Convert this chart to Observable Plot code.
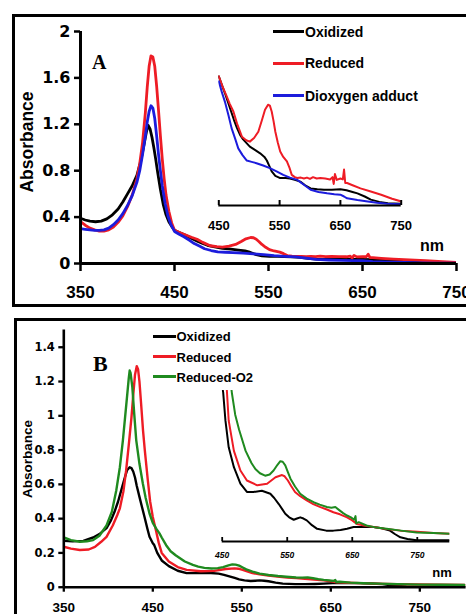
<!DOCTYPE html>
<html><head><meta charset="utf-8">
<script src="https://cdn.jsdelivr.net/npm/d3@7"></script>
<script src="https://cdn.jsdelivr.net/npm/@observablehq/plot@0.6"></script>
<style>
body{margin:0;background:#fff;}
#wrap{position:relative;width:466px;height:614px;overflow:hidden;background:#fff;font-family:"Liberation Sans",Arial,sans-serif;font-weight:bold;color:#000;}
.frame{position:absolute;box-sizing:border-box;border:3px solid #000;}
.lbl{position:absolute;white-space:nowrap;line-height:1;transform:translateY(-50%);}
.ctr{position:absolute;white-space:nowrap;line-height:1;transform:translate(-50%,-50%);}
.key{position:absolute;height:3px;}
</style></head><body><div id="wrap"></div>
<script>
// ---------- DATA ----------
// Panel A : wavelength (nm), absorbance
const aOxidized = [[350,0.39],[355,0.375],[360,0.365],[366,0.36],[372,0.365],[378,0.385],[384,0.42],[390,0.47],[395,0.53],[400,0.60],[405,0.67],[410,0.76],[414,0.88],[417,1.00],[420,1.13],[422,1.19],[424,1.16],[426,1.09],[428,1.00],[430,0.90],[432,0.79],[435,0.64],[438,0.51],[441,0.42],[444,0.36],[447,0.32],[450,0.287],[455,0.268],[460,0.25],[465,0.23],[470,0.21],[475,0.19],[480,0.172],[485,0.157],[490,0.147],[501,0.131],[510,0.123],[518,0.116],[525,0.108],[529,0.1],[533,0.088],[537,0.076],[543,0.066],[551,0.061],[560,0.061],[567,0.06],[575,0.057],[584,0.053],[592,0.045],[601,0.038],[612,0.036],[623,0.035],[636,0.035],[650,0.036],[660,0.034],[670,0.03],[678,0.027],[690,0.02],[700,0.013],[714,0.008],[728,0.005],[750,0.004]];
const aReduced = [[350,0.36],[355,0.33],[360,0.305],[365,0.29],[370,0.28],[375,0.28],[380,0.29],[385,0.315],[390,0.355],[395,0.41],[400,0.49],[405,0.59],[410,0.73],[413,0.86],[416,1.04],[419,1.3],[421,1.52],[423,1.7],[425,1.79],[427,1.78],[429,1.7],[431,1.53],[433,1.32],[435,1.1],[437,0.9],[439,0.73],[441,0.59],[444,0.45],[447,0.35],[450,0.287],[456,0.265],[462,0.246],[468,0.226],[474,0.209],[480,0.182],[488,0.153],[495,0.145],[501,0.142],[508,0.15],[515,0.164],[521,0.19],[526,0.213],[531,0.224],[534,0.222],[537,0.209],[540,0.188],[543,0.164],[547,0.14],[551,0.12],[556,0.108],[562,0.098],[566,0.085],[570,0.068],[575,0.063],[579,0.061],[585,0.062],[590,0.06],[595,0.062],[600,0.059],[605,0.063],[611,0.06],[617,0.061],[625,0.06],[633,0.058],[637,0.063],[639,0.048],[641,0.07],[644,0.057],[650,0.06],[654,0.058],[656,0.08],[658,0.05],[661,0.05],[670,0.045],[683,0.038],[700,0.031],[717,0.024],[735,0.015],[750,0.009]];
const aDioxygen = [[350,0.30],[355,0.295],[360,0.29],[365,0.285],[370,0.285],[375,0.29],[380,0.305],[385,0.335],[390,0.375],[395,0.43],[400,0.5],[405,0.585],[410,0.7],[413,0.8],[416,0.94],[419,1.1],[421,1.22],[423,1.31],[425,1.36],[427,1.34],[429,1.25],[431,1.1],[433,0.94],[435,0.8],[437,0.67],[440,0.52],[443,0.41],[446,0.34],[450,0.276],[455,0.252],[460,0.231],[466,0.2],[471,0.172],[477,0.148],[482,0.127],[489,0.112],[496,0.1],[504,0.097],[512,0.094],[523,0.089],[534,0.083],[545,0.076],[556,0.068],[567,0.062],[579,0.057],[590,0.046],[601,0.035],[614,0.03],[628,0.027],[640,0.025],[650,0.024],[656,0.02],[661,0.016],[678,0.012],[695,0.009],[710,0.006],[727,0.004],[750,0.003]];

// Panel B : wavelength (nm), absorbance
const bOxidized = [[350,0.271],[360,0.268],[372,0.27],[383,0.29],[390,0.31],[398,0.345],[403,0.39],[407,0.44],[411,0.5],[414.6,0.566],[418,0.63],[421,0.682],[424,0.70],[426,0.695],[428,0.675],[430,0.64],[432,0.59],[435,0.527],[438,0.465],[440.7,0.41],[444,0.34],[446.3,0.294],[450,0.256],[451.5,0.247],[455,0.2],[460,0.156],[468,0.123],[478,0.096],[488,0.082],[498,0.082],[511,0.084],[524,0.079],[530,0.072],[537,0.062],[542,0.054],[547,0.046],[553,0.04],[560,0.036],[565,0.038],[570,0.04],[575,0.038],[580,0.035],[588,0.027],[596,0.021],[610,0.018],[621,0.018],[632,0.019],[642,0.021],[652,0.024],[667,0.024],[683,0.024],[695,0.022],[708,0.018],[716,0.012],[724,0.007],[735,0.004],[749,0.002],[775,0.002],[800,0.002]];
const bReduced = [[350,0.236],[358,0.225],[368,0.217],[378,0.22],[385,0.235],[392,0.265],[398,0.294],[405,0.36],[410,0.42],[413,0.46],[417,0.56],[420,0.68],[423,0.83],[426,0.99],[428,1.12],[430,1.24],[432,1.29],[433.5,1.27],[435,1.2],[437,1.06],[439,0.915],[441,0.8],[444.4,0.624],[447,0.5],[450,0.41],[454,0.32],[456.6,0.26],[460,0.2],[468,0.15],[478,0.1175],[488,0.101],[504,0.093],[519,0.0955],[532,0.1065],[542,0.11],[546,0.108],[551,0.101],[556,0.092],[562,0.082],[570,0.075],[580,0.068],[590,0.062],[601,0.057],[611,0.053],[621,0.0485],[631,0.045],[642,0.04],[650,0.035],[657,0.029],[670,0.026],[683,0.024],[700,0.021],[724,0.018],[750,0.016],[775,0.014],[800,0.013]];
const bReducedO2 = [[350,0.29],[358,0.275],[368,0.265],[376,0.268],[383,0.275],[390,0.3],[398,0.36],[404,0.44],[409,0.566],[413,0.7],[416.4,0.857],[419,1.0],[421,1.109],[423,1.22],[424,1.264],[425,1.25],[427,1.167],[429,1.02],[431.4,0.857],[435,0.72],[438.8,0.605],[442,0.52],[446.3,0.43],[450,0.375],[454,0.34],[457.5,0.314],[460,0.29],[465,0.245],[470,0.21],[476,0.185],[486,0.15],[495,0.13],[501,0.12],[508,0.113],[516,0.109],[523,0.111],[529,0.1175],[535,0.127],[539.4,0.133],[543,0.132],[547,0.126],[551,0.115],[555,0.104],[562,0.091],[570,0.079],[580,0.071],[590.5,0.065],[600,0.061],[611,0.057],[618,0.056],[624,0.057],[630,0.052],[636,0.047],[642,0.043],[648,0.04],[653,0.036],[655,0.042],[656,0.03],[660,0.032],[672,0.0265],[687,0.023],[703,0.021],[725,0.018],[749,0.015],[775,0.014],[800,0.013]];

// Tick labels
const aXTicks = [350,450,550,650,750];
const aYTicks = [0,0.4,0.8,1.2,1.6,2];
const aInsetTicks = [450,550,650,750];
const bXTicks = [350,450,550,650,750];
const bYTicks = [0,0.2,0.4,0.6,0.8,1,1.2,1.4];
const bInsetTicks = [450,550,650,750];

const aSeries = ["Oxidized","Reduced","Dioxygen adduct"];
const bSeries = ["Oxidized","Reduced","Reduced-O2"];
const aColors = ["#000000","#ee1c25","#1c1cdc"];
const bColors = ["#000000","#ee1c25","#1f8a1f"];

// ---------- DRAW ----------
const wrap = document.getElementById("wrap");
const rows = (arr) => arr.map(([nm, a]) => ({nm, a}));
const FONT = "Liberation Sans, Arial, sans-serif";
function add(svg){ svg.style.position="absolute"; svg.style.left="0"; svg.style.top="0"; svg.style.background="transparent"; svg.style.overflow="visible"; wrap.appendChild(svg); }
function html(tag, cls, text, css){ const e=document.createElement(tag); e.className=cls; if(text) e.textContent=text; Object.assign(e.style, css); wrap.appendChild(e); return e; }

// frames
html("div","frame","",{left:"11.5px",top:"13.5px",width:"480px",height:"293px"});
html("div","frame","",{left:"13.5px",top:"317.5px",width:"480px",height:"320px"});

const aData = [aOxidized, aReduced, aDioxygen];
const bData = [bOxidized, bReduced, bReducedO2];

// Panel A main
add(Plot.plot({
  width:466, height:310, marginLeft:80, marginRight:10, marginTop:31, marginBottom:47,
  style:{fontFamily:FONT, fontWeight:"bold", background:"transparent"},
  x:{domain:[350,750], label:null}, y:{domain:[0,2], label:null},
  marks:[
    Plot.axisY(aYTicks,{tickSize:6, tickPadding:4, tickFormat:d=>String(d), fontSize:16, fontFamily:"DejaVu Sans", fontWeight:"bold", strokeWidth:2.5, label:null}),
    Plot.axisX(aXTicks,{tickSize:8, tickPadding:14, fontSize:17, fontWeight:"bold", strokeWidth:2.5, label:null}),
    ...aData.map((d,i)=>Plot.line(rows(d),{x:"nm", y:"a", stroke:aColors[i], strokeWidth:2.8, clip:true})),
    Plot.ruleX([350],{strokeWidth:3}),
    Plot.ruleY([0],{strokeWidth:3})
  ]
}));

// Panel A inset
add(Plot.plot({
  width:466, height:240, marginLeft:218.3, marginRight:65.3, marginTop:75, marginBottom:35,
  style:{fontFamily:FONT, fontWeight:"bold", background:"transparent"},
  x:{domain:[450,750], label:null}, y:{domain:[0,0.289], axis:null},
  marks:[
    ...aData.map((d,i)=>Plot.line(rows(d).filter(r=>r.nm>=450),{x:"nm", y:"a", stroke:aColors[i], strokeWidth:2, clip:true})),
    Plot.ruleY([0],{strokeWidth:2}),
    Plot.ruleX(aInsetTicks,{y1:0, y2:0, insetTop:-5, strokeWidth:2}),
    Plot.axisX(aInsetTicks,{tickSize:0, tickPadding:15.5, fontSize:13, fontWeight:"bold", label:null})
  ]
}));

// Panel B main
add(Plot.plot({
  width:466, height:614, marginLeft:63.3, marginRight:0.4, marginTop:329.6, marginBottom:27.3,
  style:{fontFamily:FONT, fontWeight:"bold", background:"transparent"},
  x:{domain:[350,802], label:null}, y:{domain:[0,1.5], label:null},
  marks:[
    Plot.axisY(bYTicks,{tickSize:5, tickPadding:4, tickFormat:d=>String(d), fontSize:11.5, fontFamily:"DejaVu Sans", fontWeight:"bold", strokeWidth:2.3, label:null}),
    Plot.axisX(bXTicks,{tickSize:5, tickPadding:10, fontSize:13.5, fontWeight:"bold", strokeWidth:2.3, label:null}),
    ...bData.map((d,i)=>Plot.line(rows(d),{x:"nm", y:"a", stroke:bColors[i], strokeWidth:2.4, clip:true})),
    Plot.ruleX([350],{strokeWidth:2.6}),
    Plot.ruleY([0],{strokeWidth:2.6})
  ]
}));

// Panel B inset
add(Plot.plot({
  width:466, height:614, marginLeft:221.7, marginRight:16.7, marginTop:390, marginBottom:73,
  style:{fontFamily:FONT, fontWeight:"bold", background:"transparent"},
  x:{domain:[450,800], label:null}, y:{domain:[0,0.25], axis:null},
  marks:[
    ...bData.map((d,i)=>Plot.line(rows(d).filter(r=>r.nm>=450),{x:"nm", y:"a", stroke:bColors[i], strokeWidth:2, clip:true})),
    Plot.ruleY([0],{strokeWidth:2}),
    Plot.ruleX(bInsetTicks,{y1:0, y2:0, insetTop:-4, strokeWidth:1.8}),
    Plot.axisX(bInsetTicks,{tickSize:0, tickPadding:10, fontSize:8.5, fontWeight:"bold", fontStyle:"italic", label:null})
  ]
}));

// Annotations
html("div","lbl","A",{left:"92px",top:"61.5px",fontFamily:"Liberation Serif, Times New Roman, serif",fontSize:"20px"});
html("div","lbl","B",{left:"93px",top:"364px",fontFamily:"Liberation Serif, Times New Roman, serif",fontSize:"22px"});
html("div","ctr","Absorbance",{left:"28px",top:"142px",fontSize:"17.5px",transform:"translate(-50%,-50%) rotate(-90deg)"});
html("div","ctr","Absorbance",{left:"27.5px",top:"459px",fontSize:"13.5px",transform:"translate(-50%,-50%) rotate(-90deg)"});
html("div","ctr","nm",{left:"432px",top:"246px",fontSize:"16px"});
html("div","ctr","nm",{left:"442px",top:"572px",fontSize:"13px"});

// Legends
const aLegY = [31.7, 63.3, 95.7];
aSeries.forEach((s,i)=>{
  html("div","key","",{left:"273px",top:(aLegY[i]-1.5)+"px",width:"31px",background:aColors[i]});
  html("div","lbl",s,{left:"305px",top:aLegY[i]+"px",fontSize:"14px"});
});
const bLegY = [336, 356.7, 376.5];
bSeries.forEach((s,i)=>{
  html("div","key","",{left:"153px",top:(bLegY[i]-1.5)+"px",width:"23px",background:bColors[i]});
  html("div","lbl",s,{left:"176.5px",top:bLegY[i]+"px",fontSize:"13px"});
});
</script></body></html>
